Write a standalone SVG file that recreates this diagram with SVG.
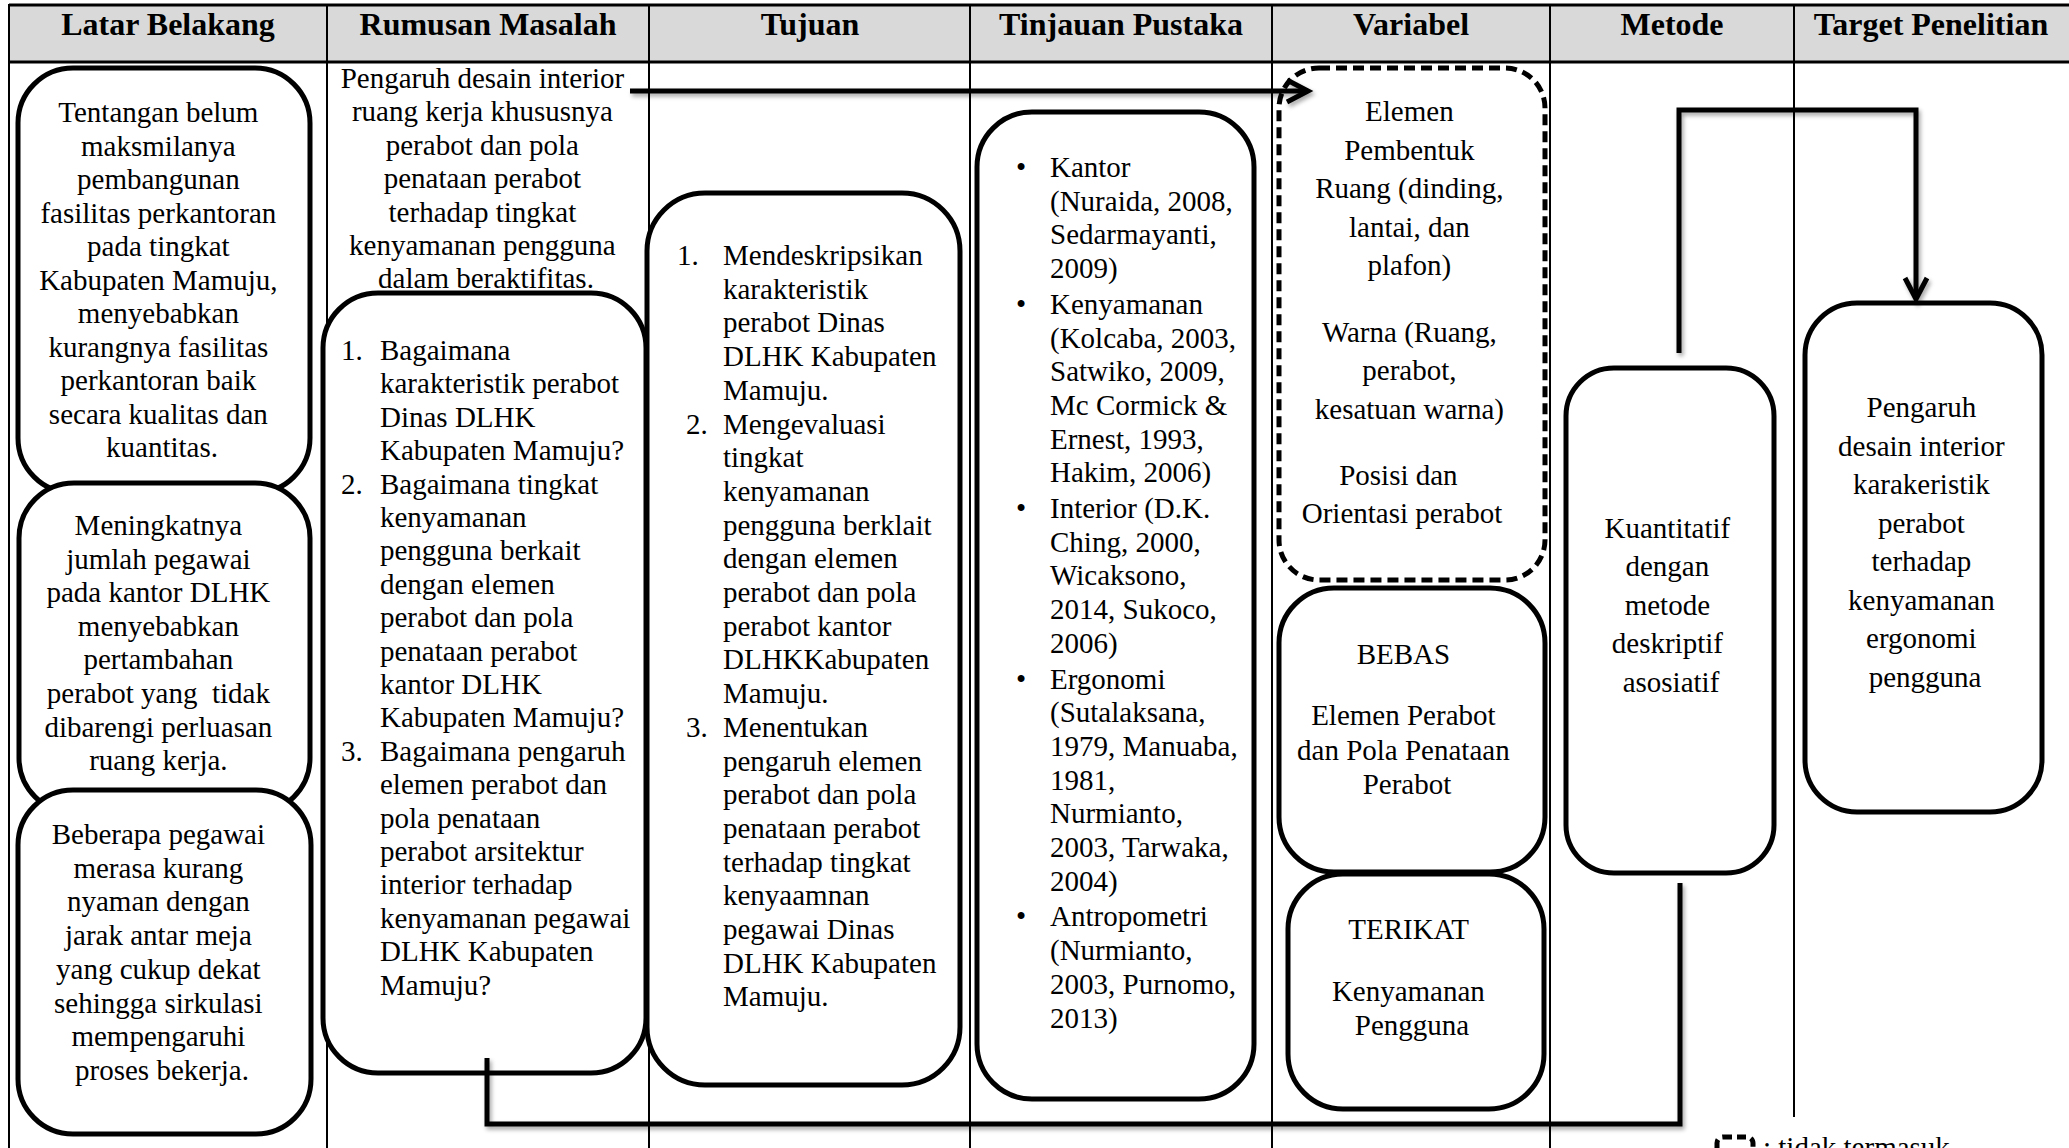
<svg xmlns="http://www.w3.org/2000/svg" width="2069" height="1148" viewBox="0 0 2069 1148">
<defs>
<style>
.hdr{font-family:"Liberation Serif","Times New Roman",serif;font-size:32px;font-weight:bold;text-anchor:middle;fill:#000}
.t{font-family:"Liberation Serif","Times New Roman",serif;font-size:29px;fill:#000}
.c{text-anchor:middle}
.box{fill:#fff;stroke:#000;stroke-width:5}
.dash{fill:#fff;stroke:#000;stroke-width:5;stroke-dasharray:11 6}
.grid{stroke:#000;stroke-width:2;fill:none}
.conn{fill:none;stroke:#000;stroke-width:5;filter:url(#sh)}
</style>
<filter id="sh" filterUnits="userSpaceOnUse" x="0" y="0" width="2069" height="1148">
<feDropShadow dx="2" dy="3" stdDeviation="2" flood-color="#000" flood-opacity="0.35"/>
</filter>
<marker id="arr" markerUnits="userSpaceOnUse" viewBox="-26 -16 30 32" markerWidth="30" markerHeight="32" refX="0" refY="0" orient="auto" overflow="visible">
<path d="M-21,-11 L0,0 L-21,11" fill="none" stroke="#000" stroke-width="5" stroke-linejoin="miter"/>
</marker>
</defs>
<rect width="2069" height="1148" fill="#fff"/>

<g id="table">
<rect x="9" y="5" width="2060" height="57" fill="#d9d9d9"/>
<line x1="9" y1="5" x2="2069" y2="5" stroke="#000" stroke-width="3"/>
<line x1="9" y1="62" x2="2069" y2="62" stroke="#000" stroke-width="3"/>
<line class="grid" x1="9" y1="4" x2="9" y2="1148"/>
<line class="grid" x1="327" y1="4" x2="327" y2="1148"/>
<line class="grid" x1="649" y1="4" x2="649" y2="1148"/>
<line class="grid" x1="970" y1="4" x2="970" y2="1148"/>
<line class="grid" x1="1272" y1="4" x2="1272" y2="1148"/>
<line class="grid" x1="1550" y1="4" x2="1550" y2="1148"/>
<line class="grid" x1="1794" y1="4" x2="1794" y2="1117"/>
<text class="hdr" x="168" y="35">Latar Belakang</text>
<text class="hdr" x="488" y="35">Rumusan Masalah</text>
<text class="hdr" x="810" y="35">Tujuan</text>
<text class="hdr" x="1121" y="35">Tinjauan Pustaka</text>
<text class="hdr" x="1411" y="35">Variabel</text>
<text class="hdr" x="1672" y="35">Metode</text>
<text class="hdr" x="1931" y="35">Target Penelitian</text>
</g>

<g id="latar1">
<rect class="box" x="18" y="68" width="292" height="425" rx="55" ry="55"/>
<text class="t c">
<tspan x="162" y="122">Tentangan belum</tspan>
<tspan x="162" y="155.5">maksmilanya</tspan>
<tspan x="162" y="189">pembangunan</tspan>
<tspan x="162" y="222.5">fasilitas perkantoran</tspan>
<tspan x="162" y="256">pada tingkat</tspan>
<tspan x="162" y="289.5">Kabupaten Mamuju,</tspan>
<tspan x="162" y="323">menyebabkan</tspan>
<tspan x="162" y="356.5">kurangnya fasilitas</tspan>
<tspan x="162" y="390">perkantoran baik</tspan>
<tspan x="162" y="423.5">secara kualitas dan</tspan>
<tspan x="162" y="457">kuantitas.</tspan>
</text>
</g>

<g id="latar2">
<rect class="box" x="19" y="483" width="291" height="330" rx="55" ry="55"/>
<text class="t c" style="white-space:pre">
<tspan x="162" y="535">Meningkatnya</tspan>
<tspan x="162" y="568.6">jumlah pegawai</tspan>
<tspan x="162" y="602.2">pada kantor DLHK</tspan>
<tspan x="162" y="635.8">menyebabkan</tspan>
<tspan x="162" y="669.4">pertambahan</tspan>
<tspan x="162" y="703">perabot yang  tidak</tspan>
<tspan x="162" y="736.6">dibarengi perluasan</tspan>
<tspan x="162" y="770.2">ruang kerja.</tspan>
</text>
</g>

<g id="latar3">
<rect class="box" x="18" y="790" width="293" height="344" rx="55" ry="55"/>
<text class="t c">
<tspan x="162" y="844">Beberapa pegawai</tspan>
<tspan x="162" y="877.7">merasa kurang</tspan>
<tspan x="162" y="911.4">nyaman dengan</tspan>
<tspan x="162" y="945.1">jarak antar meja</tspan>
<tspan x="162" y="978.8">yang cukup dekat</tspan>
<tspan x="162" y="1012.5">sehingga sirkulasi</tspan>
<tspan x="162" y="1046.2">mempengaruhi</tspan>
<tspan x="162" y="1079.9">proses bekerja.</tspan>
</text>
</g>

<g id="rumusan">
<rect class="box" x="323" y="293" width="323" height="780" rx="55" ry="55"/>
<text class="t c">
<tspan x="486" y="88">Pengaruh desain interior</tspan>
<tspan x="486" y="121.4">ruang kerja khususnya</tspan>
<tspan x="486" y="154.8">perabot dan pola</tspan>
<tspan x="486" y="188.2">penataan perabot</tspan>
<tspan x="486" y="221.6">terhadap tingkat</tspan>
<tspan x="486" y="255">kenyamanan pengguna</tspan>
<tspan x="486" y="288.4">dalam beraktifitas.</tspan>
</text>
<text class="t">
<tspan x="341" y="360">1.</tspan>
<tspan x="341" y="493.6">2.</tspan>
<tspan x="341" y="760.8">3.</tspan>
</text>
<text class="t">
<tspan x="380" y="360">Bagaimana</tspan>
<tspan x="380" y="393.4">karakteristik perabot</tspan>
<tspan x="380" y="426.8">Dinas DLHK</tspan>
<tspan x="380" y="460.2">Kabupaten Mamuju?</tspan>
<tspan x="380" y="493.6">Bagaimana tingkat</tspan>
<tspan x="380" y="527">kenyamanan</tspan>
<tspan x="380" y="560.4">pengguna berkait</tspan>
<tspan x="380" y="593.8">dengan elemen</tspan>
<tspan x="380" y="627.2">perabot dan pola</tspan>
<tspan x="380" y="660.6">penataan perabot</tspan>
<tspan x="380" y="694">kantor DLHK</tspan>
<tspan x="380" y="727.4">Kabupaten Mamuju?</tspan>
<tspan x="380" y="760.8">Bagaimana pengaruh</tspan>
<tspan x="380" y="794.2">elemen perabot dan</tspan>
<tspan x="380" y="827.6">pola penataan</tspan>
<tspan x="380" y="861">perabot arsitektur</tspan>
<tspan x="380" y="894.4">interior terhadap</tspan>
<tspan x="380" y="927.8">kenyamanan pegawai</tspan>
<tspan x="380" y="961.2">DLHK Kabupaten</tspan>
<tspan x="380" y="994.6">Mamuju?</tspan>
</text>
</g>

<g id="tujuan">
<rect class="box" x="647" y="193" width="313" height="892" rx="58" ry="58"/>
<text class="t">
<tspan x="677" y="265">1.</tspan>
<tspan x="686" y="433.5">2.</tspan>
<tspan x="686" y="736.8">3.</tspan>
</text>
<text class="t">
<tspan x="723" y="265">Mendeskripsikan</tspan>
<tspan x="723" y="298.7">karakteristik</tspan>
<tspan x="723" y="332.4">perabot Dinas</tspan>
<tspan x="723" y="366.1">DLHK Kabupaten</tspan>
<tspan x="723" y="399.8">Mamuju.</tspan>
<tspan x="723" y="433.5">Mengevaluasi</tspan>
<tspan x="723" y="467.2">tingkat</tspan>
<tspan x="723" y="500.9">kenyamanan</tspan>
<tspan x="723" y="534.6">pengguna berklait</tspan>
<tspan x="723" y="568.3">dengan elemen</tspan>
<tspan x="723" y="602">perabot dan pola</tspan>
<tspan x="723" y="635.7">perabot kantor</tspan>
<tspan x="723" y="669.4">DLHKKabupaten</tspan>
<tspan x="723" y="703.1">Mamuju.</tspan>
<tspan x="723" y="736.8">Menentukan</tspan>
<tspan x="723" y="770.5">pengaruh elemen</tspan>
<tspan x="723" y="804.2">perabot dan pola</tspan>
<tspan x="723" y="837.9">penataan perabot</tspan>
<tspan x="723" y="871.6">terhadap tingkat</tspan>
<tspan x="723" y="905.3">kenyaamnan</tspan>
<tspan x="723" y="939">pegawai Dinas</tspan>
<tspan x="723" y="972.7">DLHK Kabupaten</tspan>
<tspan x="723" y="1006.4">Mamuju.</tspan>
</text>
</g>

<g id="tinjauan">
<rect class="box" x="977" y="112" width="277" height="987" rx="55" ry="55"/>
<text class="t">
<tspan x="1016" y="177">•</tspan>
<tspan x="1016" y="313.8">•</tspan>
<tspan x="1016" y="518">•</tspan>
<tspan x="1016" y="688.5">•</tspan>
<tspan x="1016" y="926.4">•</tspan>
</text>
<text class="t">
<tspan x="1050" y="177">Kantor</tspan>
<tspan x="1050" y="210.7">(Nuraida, 2008,</tspan>
<tspan x="1050" y="244.4">Sedarmayanti,</tspan>
<tspan x="1050" y="278.1">2009)</tspan>
<tspan x="1050" y="313.8">Kenyamanan</tspan>
<tspan x="1050" y="347.5">(Kolcaba, 2003,</tspan>
<tspan x="1050" y="381.2">Satwiko, 2009,</tspan>
<tspan x="1050" y="414.9">Mc Cormick &amp;</tspan>
<tspan x="1050" y="448.6">Ernest, 1993,</tspan>
<tspan x="1050" y="482.3">Hakim, 2006)</tspan>
<tspan x="1050" y="518">Interior (D.K.</tspan>
<tspan x="1050" y="551.7">Ching, 2000,</tspan>
<tspan x="1050" y="585.4">Wicaksono,</tspan>
<tspan x="1050" y="619.1">2014, Sukoco,</tspan>
<tspan x="1050" y="652.8">2006)</tspan>
<tspan x="1050" y="688.5">Ergonomi</tspan>
<tspan x="1050" y="722.2">(Sutalaksana,</tspan>
<tspan x="1050" y="755.9">1979, Manuaba,</tspan>
<tspan x="1050" y="789.6">1981,</tspan>
<tspan x="1050" y="823.3">Nurmianto,</tspan>
<tspan x="1050" y="857">2003, Tarwaka,</tspan>
<tspan x="1050" y="890.7">2004)</tspan>
<tspan x="1050" y="926.4">Antropometri</tspan>
<tspan x="1050" y="960.1">(Nurmianto,</tspan>
<tspan x="1050" y="993.8">2003, Purnomo,</tspan>
<tspan x="1050" y="1027.5">2013)</tspan>
</text>
</g>

<g id="variabel-excluded">
<rect class="dash" x="1279" y="68" width="266" height="512" rx="40" ry="40"/>
<text class="t c">
<tspan x="1413" y="121">Elemen</tspan>
<tspan x="1413" y="159.5">Pembentuk</tspan>
<tspan x="1413" y="198">Ruang (dinding,</tspan>
<tspan x="1413" y="236.5">lantai, dan</tspan>
<tspan x="1413" y="275">plafon)</tspan>
<tspan x="1413" y="341.5">Warna (Ruang,</tspan>
<tspan x="1413" y="380">perabot,</tspan>
<tspan x="1413" y="418.5">kesatuan warna)</tspan>
<tspan x="1402" y="485">Posisi dan</tspan>
<tspan x="1402" y="523">Orientasi perabot</tspan>
</text>
</g>

<g id="bebas">
<rect class="box" x="1279" y="588" width="266" height="284" rx="55" ry="55"/>
<text class="t c">
<tspan x="1407" y="664">BEBAS</tspan>
<tspan x="1407" y="725">Elemen Perabot</tspan>
<tspan x="1407" y="759.5">dan Pola Penataan</tspan>
<tspan x="1407" y="794">Perabot</tspan>
</text>
</g>

<g id="terikat">
<rect class="box" x="1288" y="874" width="256" height="235" rx="55" ry="55"/>
<text class="t c">
<tspan x="1412" y="939">TERIKAT</tspan>
<tspan x="1412" y="1001">Kenyamanan</tspan>
<tspan x="1412" y="1035">Pengguna</tspan>
</text>
</g>

<g id="metode">
<rect class="box" x="1566" y="368" width="208" height="505" rx="48" ry="48"/>
<text class="t c">
<tspan x="1671" y="537.5">Kuantitatif</tspan>
<tspan x="1671" y="576">dengan</tspan>
<tspan x="1671" y="614.5">metode</tspan>
<tspan x="1671" y="653">deskriptif</tspan>
<tspan x="1671" y="691.5">asosiatif</tspan>
</text>
</g>

<g id="target">
<rect class="box" x="1805" y="303" width="237" height="509" rx="52" ry="52"/>
<text class="t c">
<tspan x="1925" y="417">Pengaruh</tspan>
<tspan x="1925" y="455.5">desain interior</tspan>
<tspan x="1925" y="494">karakeristik</tspan>
<tspan x="1925" y="532.5">perabot</tspan>
<tspan x="1925" y="571">terhadap</tspan>
<tspan x="1925" y="609.5">kenyamanan</tspan>
<tspan x="1925" y="648">ergonomi</tspan>
<tspan x="1925" y="686.5">pengguna</tspan>
</text>
</g>

<g id="legend">
<rect class="dash" x="1717" y="1137" width="36" height="26" rx="6" ry="6" style="stroke-dasharray:9 5"/>
<text class="t" x="1763" y="1157">: tidak termasuk</text>
</g>

<g id="connectors">
<path class="conn" d="M630,91 L1308,91" marker-end="url(#arr)"/>
<path class="conn" d="M1679,353 L1679,110 L1916,110 L1916,299" marker-end="url(#arr)"/>
<path class="conn" d="M487,1058 L487,1124 L1680,1124 L1680,883"/>
</g>
</svg>
